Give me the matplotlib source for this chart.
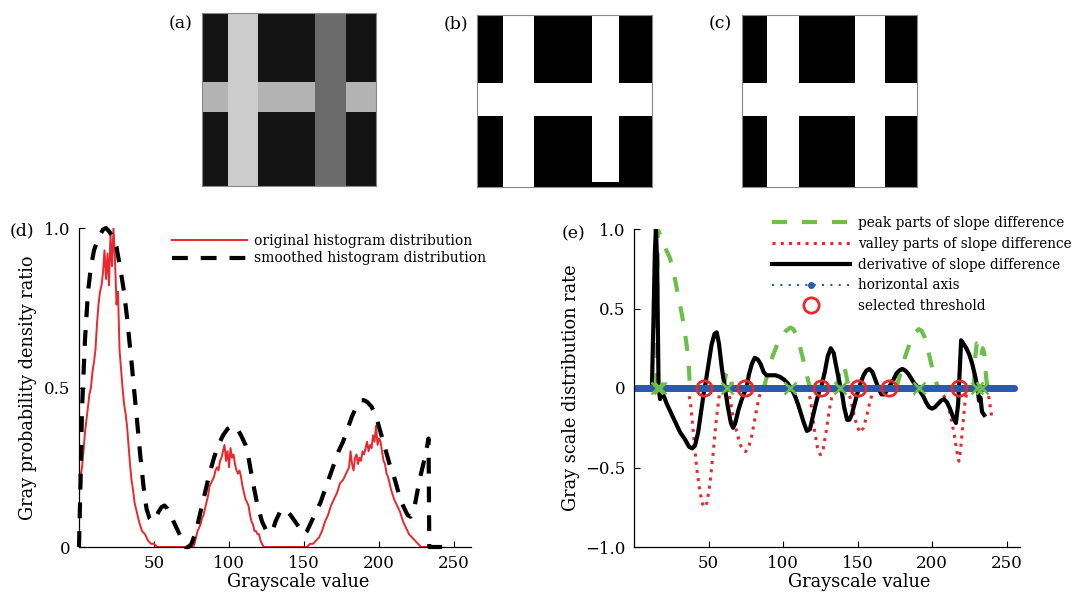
import numpy as np
import matplotlib
matplotlib.use("Agg")
import matplotlib.pyplot as plt

plt.rcParams['font.family'] = ['DejaVu Serif']
plt.rcParams['axes.unicode_minus'] = True

W, H = 1078, 592

# ---------------- data ----------------
# panel (d): original histogram (red)
gray_orig = [0, 1, 2, 3, 4, 5, 6, 7, 8, 9, 10, 11, 12, 13, 14, 15, 16, 17, 18, 19,
             20, 21, 22, 23, 24, 25, 26, 27, 28, 29, 30, 31, 32, 33, 34, 35, 36, 37, 38, 39,
             40, 42, 44, 46, 48, 50, 52, 76, 77, 78, 79, 80, 81, 82, 83, 84, 85, 86, 87, 88,
             89, 90, 91, 92, 93, 94, 95, 96, 97, 98, 99, 100, 101, 102, 103, 104, 105, 106,
             107, 108, 109, 110, 111, 112, 113, 114, 115, 116, 117, 118, 119, 120, 121, 122,
             123, 152, 154, 156, 158, 160, 162, 164, 166, 168, 170, 172, 174, 176, 178, 180,
             181, 182, 183, 184, 185, 186, 187, 188, 189, 190, 191, 192, 193, 194, 195, 196,
             197, 198, 199, 200, 201, 202, 203, 204, 205, 206, 207, 208, 210, 212, 214, 216,
             218, 220, 222, 224, 226, 228, 233]
hist_orig = [0.17, 0.22, 0.25, 0.30, 0.36, 0.40, 0.44, 0.48, 0.50, 0.55, 0.58, 0.62, 0.70, 0.76,
             0.80, 0.82, 0.86, 0.93, 0.84, 0.92, 0.82, 0.98, 0.88, 1.00, 0.90, 0.76, 0.80, 0.62,
             0.56, 0.50, 0.45, 0.42, 0.38, 0.32, 0.26, 0.21, 0.18, 0.14, 0.12, 0.10, 0.08, 0.05,
             0.04, 0.02, 0.01, 0.01, 0.0, 0.0, 0.01, 0.03, 0.05, 0.06, 0.07, 0.09, 0.10, 0.12,
             0.14, 0.16, 0.19, 0.20, 0.21, 0.22, 0.24, 0.25, 0.24, 0.27, 0.28, 0.30, 0.32, 0.27,
             0.30, 0.25, 0.31, 0.28, 0.29, 0.26, 0.24, 0.23, 0.24, 0.22, 0.19, 0.17, 0.15, 0.14,
             0.13, 0.10, 0.08, 0.07, 0.05, 0.05, 0.04, 0.04, 0.02, 0.01, 0.0, 0.0, 0.01, 0.01,
             0.02, 0.03, 0.05, 0.08, 0.10, 0.13, 0.15, 0.17, 0.20, 0.21, 0.23, 0.25, 0.30, 0.26,
             0.24, 0.28, 0.29, 0.26, 0.28, 0.27, 0.30, 0.29, 0.31, 0.33, 0.30, 0.32, 0.31, 0.35,
             0.33, 0.38, 0.32, 0.34, 0.33, 0.30, 0.27, 0.26, 0.23, 0.22, 0.20, 0.18, 0.15, 0.13,
             0.11, 0.08, 0.06, 0.04, 0.03, 0.02, 0.01, 0.0, 0.0]

# panel (d): smoothed histogram (black dashed)
gray_smooth = [0, 1, 2, 4, 6, 8, 10, 13, 16, 18, 20, 23, 25, 28, 30, 32, 35, 37, 39, 41,
               43, 45, 47, 49, 51, 53, 55, 57, 59, 62, 65, 68, 71, 73, 75, 78, 81, 84, 87, 90,
               93, 96, 99, 102, 105, 108, 111, 113, 116, 119, 122, 125, 127, 129, 131, 134, 136,
               138, 141, 144, 147, 150, 152, 155, 158, 161, 164, 167, 170, 173, 176, 179, 182,
               185, 188, 190, 192, 195, 198, 201, 204, 207, 210, 213, 216, 219, 221, 223, 225,
               227, 229, 231, 233, 233.5, 244]
hist_smooth = [0.0, 0.2, 0.43, 0.65, 0.8, 0.88, 0.93, 0.97, 0.995, 1.0, 0.99, 0.97, 0.94, 0.86,
               0.8, 0.72, 0.58, 0.48, 0.38, 0.28, 0.19, 0.12, 0.09, 0.08, 0.09, 0.11, 0.125, 0.13,
               0.12, 0.09, 0.06, 0.03, 0.0, 0.0, 0.01, 0.05, 0.11, 0.17, 0.23, 0.28, 0.32, 0.35,
               0.37, 0.38, 0.375, 0.35, 0.32, 0.28, 0.2, 0.13, 0.08, 0.05, 0.045, 0.05, 0.08, 0.11,
               0.12, 0.115, 0.1, 0.08, 0.06, 0.04, 0.05, 0.08, 0.11, 0.14, 0.18, 0.22, 0.26, 0.3,
               0.33, 0.37, 0.41, 0.44, 0.46, 0.46, 0.455, 0.44, 0.41, 0.36, 0.31, 0.26, 0.22, 0.17,
               0.13, 0.1, 0.095, 0.11, 0.16, 0.21, 0.25, 0.29, 0.34, 0.0, 0.0]

# panel (e): derivative of slope difference (black)
gray_deriv = [12, 13, 14, 14.7, 15.5, 16.5, 17.5, 18.5, 20, 22, 25, 28, 31, 34, 37, 39, 41, 43,
              45, 47, 48, 50, 52, 54, 55.5, 57, 59, 61, 63, 65, 66.5, 68, 70, 72, 74, 75.5, 77,
              79, 81, 83, 85, 87, 89, 92, 95, 98, 101, 103, 105.5, 108, 110, 112, 114, 116, 118,
              120, 122, 124, 126, 128, 130, 132, 134, 136, 138, 139.5, 141, 143, 144.5, 146, 148,
              150, 152, 154, 156, 158, 160, 162, 164, 166, 168, 170, 172, 174, 176, 178, 180, 182,
              184, 186, 188, 190, 192, 194, 196, 198, 200, 202, 204, 206, 208, 210, 212, 214, 216,
              217.5, 218.5, 219.5, 221, 223, 225, 227, 229, 230.5, 231.5, 232.5, 233.5, 235]
deriv = [0.0, 0.4, 0.85, 1.0, 0.8, 0.0, -0.07, -0.02, -0.05, -0.1, -0.16, -0.22, -0.28, -0.32,
         -0.37, -0.38, -0.36, -0.28, -0.15, -0.02, 0.03, 0.15, 0.27, 0.34, 0.35, 0.28, 0.12, 0.0,
         -0.12, -0.22, -0.25, -0.22, -0.14, -0.08, -0.03, 0.0, 0.08, 0.15, 0.19, 0.18, 0.15, 0.1,
         0.08, 0.08, 0.08, 0.07, 0.05, 0.03, 0.0, -0.05, -0.1, -0.16, -0.22, -0.27, -0.26, -0.18,
         -0.1, -0.03, 0.02, 0.1, 0.2, 0.25, 0.22, 0.12, 0.03, -0.03, -0.12, -0.2, -0.2, -0.17,
         -0.1, -0.03, 0.03, 0.08, 0.11, 0.12, 0.1, 0.05, 0.0, -0.04, -0.04, -0.01, 0.02, 0.05,
         0.09, 0.11, 0.12, 0.11, 0.09, 0.06, 0.03, 0.01, -0.02, -0.05, -0.09, -0.12, -0.13, -0.12,
         -0.1, -0.08, -0.07, -0.09, -0.13, -0.18, -0.22, -0.1, 0.1, 0.3, 0.28, 0.25, 0.21, 0.15,
         0.07, 0.0, -0.08, -0.06, -0.15, -0.17]

# panel (e): peak parts (green dashed), nan separates the parts
nan = np.nan
gray_peak = [15, 15.5, 16, 18, 20, 22, 24, 26, 28, 30, 32, 34, 36, 37, 37.5, nan,
             60, 61.5, 63, 64.5, 66, nan,
             87, 90, 93, 96, 99, 102, 105, 107, 109, 111, 113, 115, 117, 118, nan,
             136, 138, 140, 142, 144, nan,
             176, 179, 182, 185, 188, 191, 193, 195, 197, 199, 201, 203, 204, nan,
             228, 229, 230, 231.5, 233, 234, 235, 236, 237]
peak = [0, 0.5, 1.0, 0.95, 0.9, 0.86, 0.82, 0.75, 0.66, 0.56, 0.47, 0.36, 0.22, 0.1, 0.0, nan,
        0, 0.08, 0.11, 0.08, 0, nan,
        0.0, 0.1, 0.2, 0.27, 0.32, 0.36, 0.38, 0.37, 0.33, 0.27, 0.2, 0.12, 0.04, 0, nan,
        0, 0.1, 0.15, 0.1, 0, nan,
        0, 0.1, 0.2, 0.28, 0.34, 0.37, 0.36, 0.32, 0.25, 0.17, 0.09, 0.03, 0, nan,
        0, 0.2, 0.28, 0.27, 0.2, 0.25, 0.22, 0.1, 0]

# panel (e): valley parts (red dotted)
gray_valley = [36, 38, 40, 42, 44, 46, 47.5, 49, 51, 53, 55, 57, 58, nan,
               63, 65, 67, 69, 71, 73, 75, 77, 79, 81, 83, 85, 86, nan,
               117, 119, 121, 123, 125, 127, 129, 131, 133, 134, nan,
               143, 145, 147, 149, 151.5, 154, 156, 158, 160, 162, nan,
               205, 207, 209, 211, 213, 215, 217, 218, 219, 220.5, 222, 223.5, 224.5, nan,
               237, 238.5, 240]
valley = [0, -0.1, -0.3, -0.5, -0.64, -0.73, -0.75, -0.72, -0.6, -0.42, -0.22, -0.06, 0, nan,
          0, -0.1, -0.2, -0.28, -0.35, -0.39, -0.4, -0.37, -0.3, -0.2, -0.1, -0.02, 0, nan,
          0, -0.12, -0.26, -0.37, -0.42, -0.38, -0.27, -0.14, -0.04, 0, nan,
          0, -0.06, -0.14, -0.22, -0.28, -0.25, -0.18, -0.1, -0.03, 0, nan,
          0, -0.03, -0.07, -0.12, -0.2, -0.3, -0.42, -0.46, -0.4, -0.25, -0.1, -0.02, 0, nan,
          0, -0.08, -0.18]

axis_x = np.arange(0, 256)
thresholds = [47.2, 74.8, 125.8, 150.6, 171.4, 218.3]
peak_points = [15.4, 17.7, 62.3, 105, 138.4, 191, 230.3, 233.7]

# images (a)-(c): bar positions as fractions of image width / height
bars_a = [(0.150, 0.324), (0.648, 0.828)]
band_a = (0.403, 0.572)
bars_b = [(0.152, 0.326), (0.657, 0.815)]
band_b = (0.396, 0.587)
bars_c = [(0.146, 0.325), (0.647, 0.821)]
band_c = (0.396, 0.587)

RED = '#e8282d'
GREEN = '#6cc04a'
BLUE = '#2a5aa8'


def px_rect(x0, y0, x1, y1):
    return [x0 / W, 1 - y1 / H, (x1 - x0) / W, (y1 - y0) / H]


def make_img(bars, band, levels, bg, right_end=1.0, n=300):
    img = np.full((n, n), bg)
    img[int(band[0] * n):int(band[1] * n), :] = levels[2]
    for (b0, b1), lv in zip(bars, levels[:2]):
        img[:, int(b0 * n):int(b1 * n)] = lv
    if right_end < 1.0:
        b0, b1 = bars[1]
        img[int(right_end * n):, int(b0 * n):int(b1 * n)] = bg
    return img


fig = plt.figure(figsize=(W / 100, H / 100), dpi=100)

imgs = [
    (make_img(bars_a, band_a, [0.80, 0.42, 0.70], 0.08), (202, 13, 376, 186), '(a)', 169),
    (make_img(bars_b, band_b, [1, 1, 1], 0.0, right_end=0.975), (477, 15, 652, 187), '(b)', 444),
    (make_img(bars_c, band_c, [1, 1, 1], 0.0), (742, 15, 917, 187), '(c)', 709),
]
for img, r, lab, lx in imgs:
    a = fig.add_axes(px_rect(*r))
    a.imshow(img, cmap='gray', vmin=0, vmax=1, aspect='auto', interpolation='nearest')
    a.set_xticks([])
    a.set_yticks([])
    for s in a.spines.values():
        s.set_color('#888888')
        s.set_linewidth(0.8)
    fig.text(lx / W, 1 - 24 / H, lab, fontsize=12.5, ha='left', va='center')


def style(ax, xmax):
    ax.spines['top'].set_visible(False)
    ax.spines['right'].set_visible(False)
    for s in ('left', 'bottom'):
        ax.spines[s].set_linewidth(0.9)
    ax.tick_params(direction='in', length=4, width=0.8, labelsize=12, pad=6)
    ax.set_xticks([50, 100, 150, 200, 250])
    ax.set_xlim(0, xmax)


# ---------------- panel (d) ----------------
ax_d = fig.add_axes(px_rect(79, 228, 471, 547))
ax_d.plot(gray_orig, hist_orig, color=RED, lw=1.4, label='original histogram distribution')
ax_d.plot(gray_smooth, hist_smooth, color='k', lw=3, dashes=(3.8, 3.1), clip_on=False,
          label='smoothed histogram distribution')
style(ax_d, 261.3)
ax_d.set_ylim(0, 1)
ax_d.set_yticks([0, 0.5, 1.0])
ax_d.set_yticklabels(['0', '0.5', '1.0'])
ax_d.set_xlabel('Grayscale value', fontsize=12.8)
ax_d.set_ylabel('Gray probability density ratio', fontsize=12.8)
ax_d.xaxis.set_label_coords(0.558, -0.082)
ax_d.yaxis.set_label_coords(-0.107, 0.5)
ax_d.legend(loc='upper left', bbox_to_anchor=(172 / W, 1 - 234 / H),
            bbox_transform=fig.transFigure, frameon=False, borderpad=0, borderaxespad=0,
            handlelength=5.4, handletextpad=0.5, labelspacing=0.25, fontsize=10)
fig.text(10 / W, 1 - 231 / H, '(d)', fontsize=12.5, ha='left', va='center')

# ---------------- panel (e) ----------------
ax_e = fig.add_axes(px_rect(634, 229, 1020, 547))
ax_e.plot(gray_peak, peak, color=GREEN, lw=3, dashes=(3.6, 3.6),
          label='peak parts of slope difference')
ax_e.plot(gray_valley, valley, color=RED, lw=2.2, dashes=(1, 1.7),
          label='valley parts of slope difference')
ax_e.plot(gray_deriv, deriv, color='k', lw=3, label='derivative of slope difference')
ax_e.plot(axis_x, np.zeros_like(axis_x), color=BLUE, lw=1.5, dashes=(1, 3), marker='.', ms=8,
          label='horizontal axis')
ax_e.plot(thresholds, np.zeros(len(thresholds)), ls='none', marker='o', ms=11, mfc='none',
          mec=RED, mew=2, label='selected threshold')
ax_e.plot(peak_points, np.zeros(len(peak_points)), ls='none', marker='x', ms=9,
          mec=GREEN, mew=1.8)
style(ax_e, 259)
ax_e.set_ylim(-1, 1)
ax_e.set_yticks([-1, -0.5, 0, 0.5, 1])
ax_e.set_yticklabels(['\u22121.0', '\u22120.5', '0', '0.5', '1.0'])
ax_e.set_xlabel('Grayscale value', fontsize=12.8)
ax_e.set_ylabel('Gray scale distribution rate', fontsize=12.8)
ax_e.xaxis.set_label_coords(0.583, -0.082)
ax_e.yaxis.set_label_coords(-0.14, 0.5)
ax_e.legend(loc='upper left', bbox_to_anchor=(772 / W, 1 - 216 / H),
            bbox_transform=fig.transFigure, frameon=False, borderpad=0, borderaxespad=0,
            handlelength=5.75, handletextpad=0.58, labelspacing=0.5, fontsize=9.8)
fig.text(562 / W, 1 - 234 / H, '(e)', fontsize=12.5, ha='left', va='center')

fig.savefig('out.png', dpi=100)
